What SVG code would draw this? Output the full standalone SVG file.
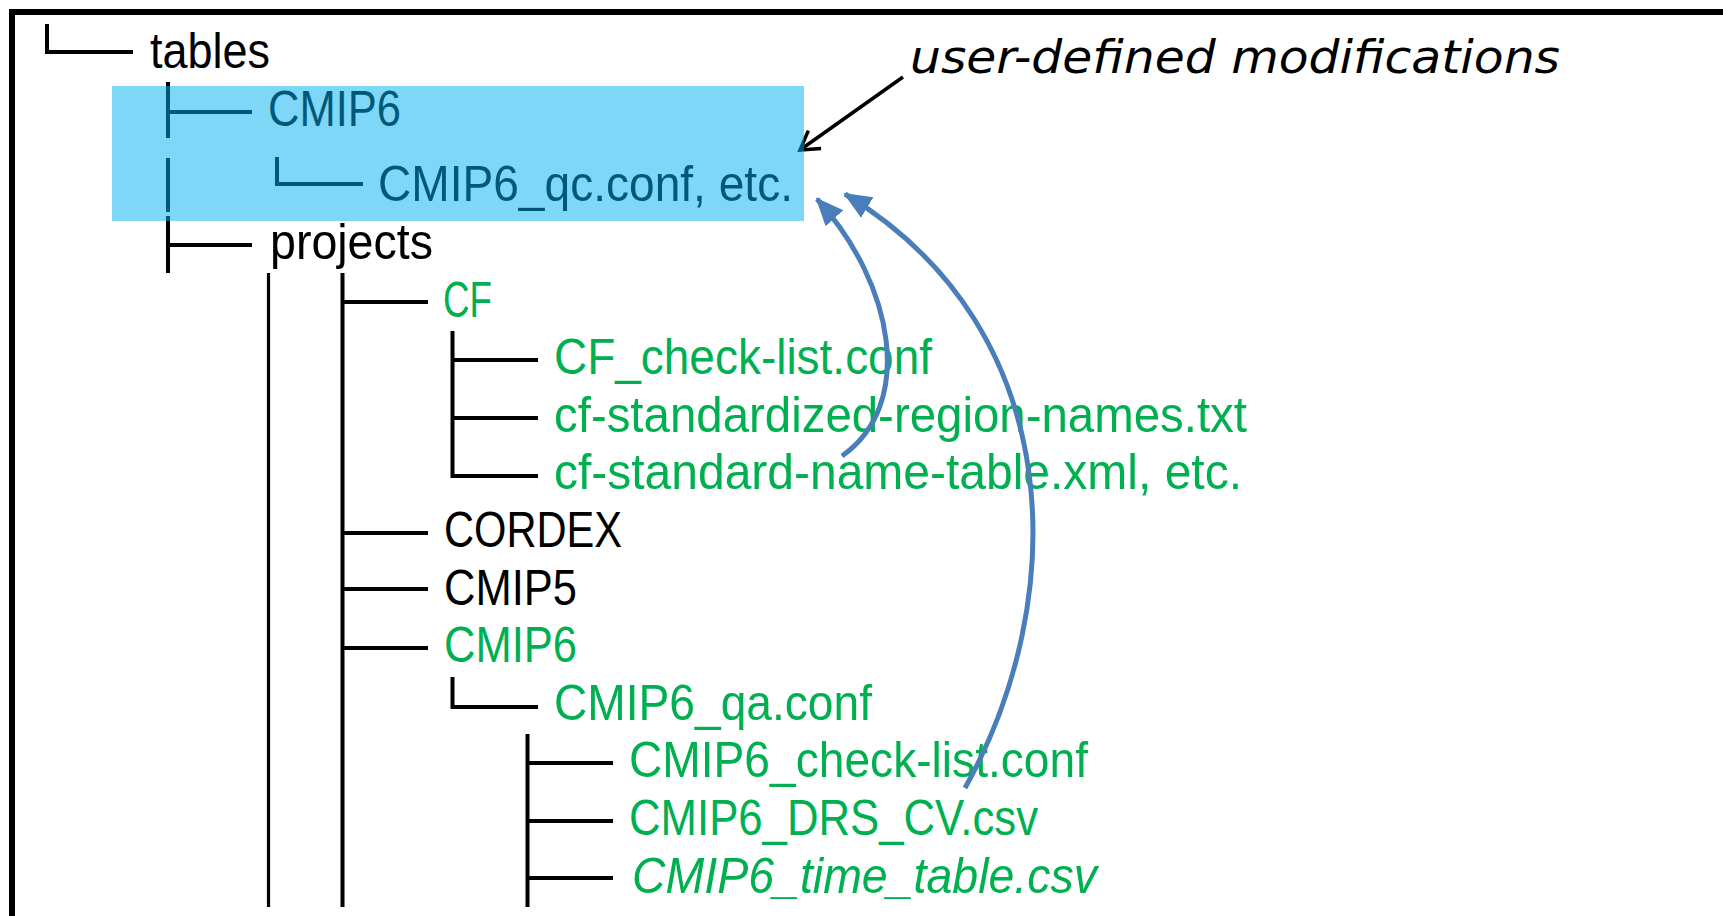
<svg xmlns="http://www.w3.org/2000/svg" width="1723" height="916" viewBox="0 0 1723 916">
  <style>
    .lbl { font-family: "Liberation Sans", Arial, sans-serif; font-size: 50px; }
    .blk { fill: #000000; }
    .grn { fill: #00B050; }
    .tree { stroke: #000000; stroke-width: 4; fill: none; stroke-linecap: butt; }
    .thin { stroke-width: 3.2; }
    .note { font-family: "DejaVu Sans", sans-serif; font-style: italic; font-size: 46px; fill: #000000; }
    .link { stroke: #4A7EBB; stroke-width: 5; fill: none; }
  </style>
  <defs>
    <marker id="headBlue" markerUnits="userSpaceOnUse" markerWidth="30" markerHeight="30" viewBox="0 0 30 30" refX="26" refY="15" orient="auto">
      <path d="M0,3 L28,15 L0,27 Z" fill="#4A7EBB"/>
    </marker>
    <marker id="headOpen" markerUnits="userSpaceOnUse" markerWidth="30" markerHeight="30" viewBox="0 0 30 30" refX="26" refY="15" orient="auto">
      <path d="M8,4 L26,15 L8,26" fill="none" stroke="#000000" stroke-width="3.5"/>
    </marker>
  </defs>

  <rect id="frame" x="12" y="12" width="1800" height="1000" fill="#ffffff" stroke="#000000" stroke-width="6"/>

  <!-- directory tree rules -->
  <g id="tree-lines" class="tree">
    <path d="M47,24 V52 H133"/>
    <path d="M168,82 V138 M168,112 H252"/>
    <path d="M168,158 V212"/>
    <path d="M277,157 V184 H363"/>
    <path d="M168,216 V273 M168,245 H252"/>
    <path class="thin" d="M268.5,273 V907"/>
    <path d="M342.5,273 V907"/>
    <path d="M342.5,302 H428"/>
    <path d="M342.5,533 H428"/>
    <path d="M342.5,589 H428"/>
    <path d="M342.5,648 H428"/>
    <path d="M452.5,331 V476 H538 M452.5,360 H538 M452.5,418 H538"/>
    <path d="M452.5,677 V707 H538"/>
    <path d="M527.5,734 V907 M527.5,763 H613 M527.5,821 H613 M527.5,878 H613"/>
  </g>

  <g id="node-tables"><text class="lbl blk" x="150" y="67.5" textLength="120" lengthAdjust="spacingAndGlyphs">tables</text></g>
  <g id="node-tables-cmip6"><text class="lbl blk" x="268" y="125.5" textLength="133" lengthAdjust="spacingAndGlyphs">CMIP6</text></g>
  <g id="node-qc-conf"><text class="lbl blk" x="378" y="200.5" textLength="415" lengthAdjust="spacingAndGlyphs">CMIP6_qc.conf, etc.</text></g>
  <g id="node-projects"><text class="lbl blk" x="270" y="259" textLength="163" lengthAdjust="spacingAndGlyphs">projects</text></g>
  <g id="node-cf"><text class="lbl grn" x="443" y="316.6" textLength="49" lengthAdjust="spacingAndGlyphs">CF</text></g>
  <g id="node-cf-check"><text class="lbl grn" x="554" y="374.2" textLength="378" lengthAdjust="spacingAndGlyphs">CF_check-list.conf</text></g>
  <g id="node-cf-regions"><text class="lbl grn" x="554" y="431.8" textLength="693" lengthAdjust="spacingAndGlyphs">cf-standardized-region-names.txt</text></g>
  <g id="node-cf-names"><text class="lbl grn" x="554" y="489.4" textLength="688" lengthAdjust="spacingAndGlyphs">cf-standard-name-table.xml,  etc.</text></g>
  <g id="node-cordex"><text class="lbl blk" x="444" y="547" textLength="178" lengthAdjust="spacingAndGlyphs">CORDEX</text></g>
  <g id="node-cmip5"><text class="lbl blk" x="444" y="604.6" textLength="133" lengthAdjust="spacingAndGlyphs">CMIP5</text></g>
  <g id="node-projects-cmip6"><text class="lbl grn" x="444" y="662.2" textLength="133" lengthAdjust="spacingAndGlyphs">CMIP6</text></g>
  <g id="node-qa-conf"><text class="lbl grn" x="554" y="719.8" textLength="318" lengthAdjust="spacingAndGlyphs">CMIP6_qa.conf</text></g>
  <g id="node-cmip6-check"><text class="lbl grn" x="629" y="777.4" textLength="459" lengthAdjust="spacingAndGlyphs">CMIP6_check-list.conf</text></g>
  <g id="node-drs"><text class="lbl grn" x="629" y="835" textLength="409" lengthAdjust="spacingAndGlyphs">CMIP6_DRS_CV.csv</text></g>
  <g id="node-time-table"><text class="lbl grn" x="632" y="892.6" font-style="italic" textLength="465" lengthAdjust="spacingAndGlyphs">CMIP6_time_table.csv</text></g>

  <g id="node-note"><text class="note" x="910" y="73" textLength="650" lengthAdjust="spacingAndGlyphs">user-defined modifications</text></g>

  <g id="connectors">
    <path d="M903,77 L800,150" stroke="#000000" stroke-width="3.5" fill="none" marker-end="url(#headOpen)"/>
    <path class="link" d="M842,456 C915,405 895,285 817,199" marker-end="url(#headBlue)"/>
    <path class="link" d="M965,788 C1070,600 1070,330 845,194" marker-end="url(#headBlue)"/>
  </g>

  <!-- translucent highlight over the local tables entry -->
  <rect id="highlight" x="112" y="86" width="692" height="135" fill="#00B0F0" fill-opacity="0.5"/>
</svg>
